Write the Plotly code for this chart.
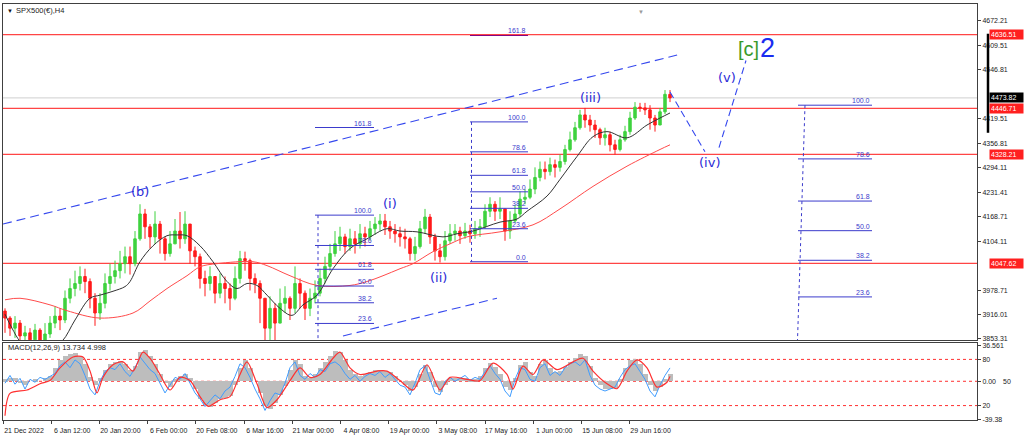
import plotly.graph_objects as go

# ---------------- DATA ----------------
# H4 candles (sampled), open = previous close
first_open = 3925
closes = [3907, 3881, 3894, 3861, 3869, 3851, 3876, 3846, 3866, 3894,
          3912, 3902, 3958, 3983, 3996, 4014, 4001, 3958, 3920, 3945,
          3996, 4014, 4029, 4047, 4065, 4047, 4111, 4175, 4142, 4116,
          4149, 4111, 4073, 4098, 4131, 4111, 4149, 4080, 4065, 4009,
          3996, 4014, 3971, 3996, 3983, 3958, 4009, 4060, 4055, 4009,
          3996, 3958, 3881, 3932, 3894, 3945, 3958, 3932, 3996, 3971,
          3932, 3958, 3971, 4009, 4040, 4073, 4098, 4116, 4091, 4111,
          4098, 4124, 4116, 4137, 4149, 4157, 4142, 4131, 4124, 4116,
          4111, 4073, 4091, 4137, 4167, 4116, 4080, 4065, 4106, 4124,
          4131, 4119, 4131, 4124, 4137, 4142, 4182, 4200, 4182, 4188,
          4131, 4157, 4175, 4213, 4218, 4239, 4269, 4290, 4284, 4302,
          4295, 4310, 4341, 4366, 4397, 4430, 4417, 4404, 4392, 4371,
          4379, 4353, 4341, 4366, 4387, 4422, 4450, 4448, 4443, 4422,
          4404, 4438, 4483, 4473.82]
highs = [3932, 3912, 3912, 3902, 3887, 3881, 3892, 3881, 3894, 3912,
         3938, 3932, 3978, 4009, 4029, 4040, 4034, 4009, 3971, 3971,
         4022, 4047, 4055, 4080, 4091, 4091, 4131, 4200, 4188, 4149,
         4182, 4157, 4116, 4131, 4162, 4180, 4182, 4149, 4091, 4073,
         4029, 4040, 4009, 4022, 4014, 3996, 4040, 4080, 4078, 4060,
         4022, 4004, 3958, 3963, 3945, 3983, 3989, 3963, 4040, 4009,
         3978, 3983, 4004, 4034, 4065, 4098, 4131, 4142, 4124, 4137,
         4131, 4149, 4142, 4157, 4167, 4175, 4175, 4157, 4149, 4142,
         4137, 4116, 4116, 4157, 4188, 4175, 4124, 4098, 4131, 4149,
         4149, 4142, 4152, 4147, 4157, 4162, 4200, 4218, 4208, 4218,
         4188, 4182, 4198, 4233, 4239, 4264, 4295, 4310, 4310, 4320,
         4315, 4328, 4353, 4387, 4412, 4443, 4448, 4430, 4417, 4397,
         4397, 4387, 4366, 4379, 4402, 4438, 4463, 4461, 4461, 4455,
         4430, 4448, 4494, 4494]
lows = [3869, 3861, 3856, 3843, 3836, 3830, 3841, 3825, 3836, 3856,
        3881, 3876, 3894, 3945, 3963, 3978, 3971, 3932, 3887, 3902,
        3932, 3978, 3996, 4009, 4022, 4019, 4040, 4106, 4111, 4086,
        4098, 4073, 4055, 4065, 4098, 4086, 4098, 4047, 4040, 3983,
        3963, 3978, 3945, 3958, 3945, 3927, 3953, 3996, 4029, 3978,
        3971, 3894, 3843, 3843, 3843, 3907, 3920, 3902, 3920, 3932,
        3902, 3912, 3945, 3963, 3996, 4029, 4065, 4080, 4073, 4080,
        4073, 4086, 4091, 4106, 4121, 4131, 4121, 4111, 4101, 4091,
        4086, 4055, 4055, 4086, 4124, 4098, 4055, 4050, 4055, 4098,
        4106, 4098, 4111, 4101, 4111, 4116, 4137, 4167, 4157, 4162,
        4106, 4111, 4152, 4167, 4200, 4213, 4226, 4259, 4264, 4274,
        4269, 4284, 4302, 4336, 4361, 4392, 4397, 4387, 4371, 4353,
        4351, 4336, 4328, 4336, 4361, 4379, 4417, 4438, 4430, 4392,
        4387, 4404, 4432, 4463]

# moving averages (bar index, value)
ma_fast_idx = [0, 1.4, 3, 5, 8, 11.4, 14, 17, 19, 21.6, 24, 25, 27, 29.6, 32.4,
               34.4, 36.4, 39, 41.6, 44.4, 46.4, 48.4, 50.4, 52.4, 55, 57.4, 59.6,
               62.4, 65.6, 69, 72.4, 76.4, 79, 82.4, 87.6, 90.4, 93.6, 99, 102.4,
               104.4, 108.4, 111, 114.4, 117.6, 120.4, 124.4, 128.4, 131, 133]
ma_fast_val = [3917, 3881, 3847, 3825, 3818, 3847, 3902, 3958, 3966, 3976, 3988,
               4001, 4052, 4093, 4119, 4121, 4119, 4093, 4052, 4001, 3983, 3996,
               3991, 3966, 3932, 3914, 3941, 3966, 4034, 4086, 4111, 4137, 4131,
               4129, 4116, 4124, 4131, 4154, 4162, 4182, 4221, 4264, 4323, 4374,
               4387, 4371, 4404, 4422, 4435]
ma_slow_idx = [0, 3, 9, 12.4, 19, 25.6, 29, 32.4, 36.4, 39, 42.4, 49.6, 52.4, 57,
               62.4, 69, 72.4, 75.6, 79, 81.6, 85.6, 89, 92.4, 99, 105.6, 111,
               117.6, 124.4, 131, 133]
ma_slow_val = [3954, 3958, 3941, 3926, 3907, 3920, 3951, 3983, 4016, 4039, 4047,
               4052, 4042, 4016, 3991, 3991, 4001, 4016, 4034, 4047, 4078, 4098,
               4116, 4129, 4147, 4188, 4246, 4298, 4341, 4353]

# MACD panel
macd_hist = [2, 4, 3, -2, -4, 0, 2, 0, 3, 6,
             14, 22, 26, 28, 29, 26, 18, 5, -4, 4,
             12, 18, 20, 21, 18, 12, 16, 30, 32, 26,
             18, 8, -2, -6, 2, 6, 8, 4, -8, -18,
             -24, -26, -22, -18, -17, -15, -4, 14, 22, 14,
             0, -12, -25, -28, -22, -14, -5, 12, 22, 18,
             6, 4, 8, 14, 20, 26, 31, 30, 22, 12,
             8, 6, 8, 10, 12, 12, 11, 10, 6, 0,
             -4, -10, -6, 8, 17, 10, -6, -11, -4, 3,
             4, 3, 4, 2, 2, 6, 14, 19, 15, 8,
             -6, -9, 4, 17, 20, 10, 6, 18, 22, 14,
             10, 11, 15, 20, 24, 28, 26, 16, 4, -4,
             -8, -8, -7, 2, 14, 22, 23, 18, 8, -4,
             -10, -6, 2, 8]
macd_main = [-2, 6, -3, 3, -8, 2, -1, 4, 2, 5,
             8, 16, 20, 14, 22, 18, 6, -8, -14, 0,
             10, 14, 12, 18, 10, 5, 14, 25, 18, 12,
             8, -2, -12, -4, 4, 2, 8, -2, -12, -18,
             -26, -20, -14, -18, -10, -6, 5, 18, 14, 4,
             -8, -18, -30, -20, -12, -14, -2, 14, 20, 6,
             2, 8, 4, 12, 10, 18, 20, 16, 8, 2,
             6, 0, 5, 8, 6, 10, 4, 8, 2, -4,
             -6, -14, -2, 12, 16, 2, -12, -14, 0, 4,
             0, 3, 6, 1, 4, 2, 10, 16, 8, 2,
             -10, -16, 2, 14, 12, 2, 0, 14, 18, 6,
             10, 6, 14, 18, 20, 16, 22, 6, -4, -8,
             -10, -8, -6, 4, 12, 16, 18, 10, 2, -10,
             -16, -4, 6, 13.734]
signal_idx = [0, 1, 4.4, 7, 9, 11, 13.6, 15.6, 17, 18.4, 19.6, 21.6, 23.6, 25.6,
              27.6, 29, 31, 33, 35, 37, 39, 40.6, 43, 45, 47, 48.4, 50.4, 52.4,
              54.4, 57, 59, 61, 63, 65.6, 67, 69, 71, 74.4, 76.4, 79, 81.6, 84.4,
              87, 89, 92.4, 95, 97.6, 100.4, 101.6, 103.6, 105.6, 107.6, 110.4,
              113.6, 115.6, 117.6, 120.4, 122.4, 124.4, 126.4, 128.4, 130.4, 132.4, 133]
signal_val = [-35.5, -12.5, -9, -2.6, 0.7, 13.8, 25, 25, 10.5, -12, 4, 17, 20, 10.5,
              30, 23.7, 7, -9, 4, 0.7, -15.8, -25.7, -19, -15.8, 7, 20, -2.6, -27,
              -19, 0.7, 13.8, 4, 7, 23.7, 30, 13.8, 7, 10.5, 10.5, 0.7, -9, 17,
              -9, 4, 2, 0.7, 18.7, 7, -8, 15.5, 7, 22, 12, 20, 23.7, 10.5, -2.6,
              -7.6, 10.5, 22, 13.8, -6, -1, 4.998]
macd_levels = [22.5, 0, -25.0]
macd_tick_vals = [36.561, 22.5, 0, -25.0, -39.38]
macd_tick_text = ["36.561", "80", "0.00", "20", "-39.38"]

# horizontal levels and axis labels
levels = [4636.51, 4446.71, 4328.21, 4047.62]
last_price = 4473.82
price_ticks = [4672.21, 4609.51, 4546.81, 4419.51, 4356.81, 4294.11,
               4231.41, 4168.71, 4104.11, 3978.71, 3916.01, 3853.31]
date_labels = ["21 Dec 2022", "6 Jan 12:00", "20 Jan 20:00", "6 Feb 00:00",
               "20 Feb 08:00", "6 Mar 16:00", "21 Mar 00:00", "4 Apr 08:00",
               "19 Apr 00:00", "3 May 08:00", "17 May 16:00", "1 Jun 00:00",
               "15 Jun 08:00", "29 Jun 16:00"]

# Fibonacci tools: (x start, x end, 100% price, 0% price)
fib_pcts_a = [161.8, 100.0, 78.6, 61.8, 50.0, 38.2, 23.6]
fib_a = (62.0, 73.8, 4172, 3807)
fib_pcts_b = [161.8, 100.0, 78.6, 61.8, 50.0, 38.2, 23.6, 0.0]
fib_b = (93.0, 104.6, 4412, 4052)
fib_pcts_c = [100.0, 78.6, 61.8, 50.0, 38.2, 23.6, 0.0]
fib_c = (158.6, 173.4, 4455, 3809)

# Elliott wave drawing
channel_upper = ([-0.4, 135.0], [4149, 4586])
channel_lower = ([67.6, 98.4], [3861, 3958])
projection_a = ([133.0, 140.0], [4489, 4335])
projection_b = ([142.8, 148.2], [4346, 4570])
wave_labels = ["(b)", "(i)", "(ii)", "(iii)", "(iv)", "(v)"]
wave_x = [27, 77, 86.6, 117, 140.8, 144.4]
wave_y = [4233, 4203, 4011, 4476, 4307, 4526]
degree_c = (148.6, 4599)
degree_2 = (152.4, 4603)

# ---------------- FIGURE ----------------
W, H = 1024, 441
XR = [-0.4, 194.4]
YR = [3850.8, 4715.6]
MR = [-40.0, 39.5]
BLUE = "#2b2bd6"
FIBC = "#3b3bcc"
AXF = dict(family="Liberation Sans", size=7, color="#222222")

n = len(closes)
idx = list(range(n))
opens = [first_open] + closes[:-1]
hi_c = [max(h, o, c) for h, o, c in zip(highs, opens, closes)]
lo_c = [min(l, o, c) for l, o, c in zip(lows, opens, closes)]

fig = go.Figure()

fig.add_trace(go.Scatter(x=ma_slow_idx, y=ma_slow_val, mode="lines",
                         line=dict(color="#ff4b4b", width=1, shape="spline"),
                         xaxis="x", yaxis="y", showlegend=False, hoverinfo="skip"))
fig.add_trace(go.Candlestick(x=idx, open=opens, high=hi_c, low=lo_c, close=closes,
                             increasing=dict(line=dict(color="#3fd23f", width=1), fillcolor="#3fd23f"),
                             decreasing=dict(line=dict(color="#ff1a1a", width=1), fillcolor="#ff1a1a"),
                             whiskerwidth=0, xaxis="x", yaxis="y", showlegend=False))
fig.add_trace(go.Scatter(x=ma_fast_idx, y=ma_fast_val, mode="lines",
                         line=dict(color="#333333", width=1, shape="spline"),
                         xaxis="x", yaxis="y", showlegend=False, hoverinfo="skip"))

# MACD
fig.add_trace(go.Bar(x=idx, y=macd_hist, marker=dict(color="#bdbdbd", line=dict(width=0)),
                     width=1.0, xaxis="x2", yaxis="y2", showlegend=False))
fig.add_trace(go.Scatter(x=idx, y=macd_main, mode="lines", line=dict(color="#3f9cff", width=1),
                         xaxis="x2", yaxis="y2", showlegend=False))
fig.add_trace(go.Scatter(x=signal_idx, y=signal_val, mode="lines",
                         line=dict(color="#ff3030", width=1.2, shape="spline", smoothing=0.8),
                         xaxis="x2", yaxis="y2", showlegend=False))

shapes = []
for lv in levels:
    shapes.append(dict(type="line", xref="x", yref="y", x0=XR[0], x1=XR[1], y0=lv, y1=lv,
                       line=dict(color="#ff4545", width=1.2), layer="below"))
shapes.append(dict(type="line", xref="x", yref="y", x0=XR[0], x1=XR[1], y0=last_price, y1=last_price,
                   line=dict(color="#cfcfcf", width=1), layer="below"))
for lv in macd_levels:
    shapes.append(dict(type="line", xref="x2", yref="y2", x0=XR[0], x1=XR[1], y0=lv, y1=lv,
                       line=dict(color="#ff3030", width=1, dash="dot"), layer="below"))

annotations = []


def add_fib(spec, pcts, vline, purple_top=False):
    x0, x1, p100, p0 = spec
    for p in pcts:
        val = p0 + (p100 - p0) * p / 100.0
        if val < YR[0] or val > YR[1]:
            continue
        col = "#800080" if (purple_top and p > 100) else FIBC
        shapes.append(dict(type="line", xref="x", yref="y", x0=x0, x1=x1, y0=val, y1=val,
                           line=dict(color=col, width=1)))
        annotations.append(dict(x=x1, y=val, xref="x", yref="y", text=f"{p:.1f}", showarrow=False,
                                xanchor="right", yanchor="bottom", yshift=-1,
                                font=dict(family="Liberation Sans", size=7, color=FIBC)))
    vx0, vx1 = vline
    shapes.append(dict(type="line", xref="x", yref="y", x0=vx0, x1=vx1, y0=p100, y1=p0,
                       line=dict(color=FIBC, width=1, dash="dot")))


add_fib(fib_a, fib_pcts_a, (fib_a[0] + 0.6, fib_a[0] + 0.6))
add_fib(fib_b, fib_pcts_b, (fib_b[0] + 0.3, fib_b[0] + 0.3), purple_top=True)
add_fib(fib_c, fib_pcts_c, (fib_c[0] + 1.4, fib_c[0] - 0.2))

for (xs, ys), dsh in [(channel_upper, "9px,5px"), (channel_lower, "9px,5px"),
                      (projection_a, "7px,4px"), (projection_b, "7px,4px")]:
    shapes.append(dict(type="line", xref="x", yref="y", x0=xs[0], x1=xs[1], y0=ys[0], y1=ys[1],
                       line=dict(color="#3548ee", width=1.1, dash=dsh)))

shapes.append(dict(type="line", xref="paper", yref="y", x0=988 / W, x1=988 / W, y0=4639, y1=4384,
                   line=dict(color="#000000", width=2.5)))

for t, x, y in zip(wave_labels, wave_x, wave_y):
    annotations.append(dict(x=x, y=y, xref="x", yref="y", text=t, showarrow=False,
                            font=dict(family="DejaVu Sans", size=13, color=BLUE)))
annotations.append(dict(x=degree_c[0], y=degree_c[1], xref="x", yref="y", text="[c]", showarrow=False,
                        font=dict(family="Liberation Sans", size=20, color="#3a9a2a")))
annotations.append(dict(x=degree_2[0], y=degree_2[1], xref="x", yref="y", text="2", showarrow=False,
                        font=dict(family="Liberation Sans", size=27, color="#1a2cf0")))

for lv in levels:
    annotations.append(dict(x=989 / W, xref="paper", y=lv, yref="y", text=f"{lv:.2f}", showarrow=False,
                            xanchor="left", yanchor="middle", bgcolor="#ff2020", borderpad=1,
                            width=31, align="left",
                            font=dict(family="Liberation Sans", size=7, color="white")))
annotations.append(dict(x=989 / W, xref="paper", y=last_price, yref="y", text=f"{last_price:.2f}",
                        showarrow=False, xanchor="left", yanchor="middle", bgcolor="#000000",
                        borderpad=1, width=31, align="left",
                        font=dict(family="Liberation Sans", size=7, color="white")))

annotations.append(dict(x=5 / W, y=1 - 10 / H, xref="paper", yref="paper", text="▼", showarrow=False,
                        xanchor="left", yanchor="middle", font=dict(size=6, color="#111111")))
annotations.append(dict(x=14 / W, y=1 - 10 / H, xref="paper", yref="paper", text="SPX500(€),H4",
                        showarrow=False, xanchor="left", yanchor="middle",
                        font=dict(family="Liberation Sans", size=7.5, color="#222222")))
annotations.append(dict(x=6 / W, y=1 - 350 / H, xref="paper", yref="paper",
                        text="MACD(12,26,9) 13.734 4.998", showarrow=False, xanchor="left",
                        yanchor="middle", font=dict(family="Liberation Sans", size=7.5, color="#222222")))
annotations.append(dict(x=641 / W, y=1 - 5 / H, xref="paper", yref="paper", text="▼", showarrow=False,
                        font=dict(size=6, color="#9a9a9a")))
annotations.append(dict(x=1001 / W, y=0, xref="paper", yref="y2", text="50", showarrow=False,
                        xanchor="left", yanchor="middle",
                        font=dict(family="Liberation Sans", size=7, color="#222222")))

date_pos = [XR[0] + 9.64 * k for k in range(len(date_labels))]

frame = dict(showline=True, mirror=True, linecolor="#404040", linewidth=1,
             showgrid=False, zeroline=False)
fig.update_layout(
    width=W, height=H, autosize=False,
    margin=dict(l=0, r=0, t=0, b=0),
    paper_bgcolor="white", plot_bgcolor="white",
    showlegend=False, bargap=0, hovermode=False,
    xaxis=dict(domain=[3 / W, 977 / W], anchor="y", range=XR, showticklabels=False,
               rangeslider=dict(visible=False), **frame),
    yaxis=dict(domain=[1 - 342 / H, 1 - 3 / H], anchor="x", side="right", range=YR,
               tickmode="array", tickvals=price_ticks, ticktext=[f"{v:.2f}" for v in price_ticks],
               ticks="outside", ticklen=3, tickcolor="#404040", tickfont=AXF, **frame),
    xaxis2=dict(domain=[3 / W, 977 / W], anchor="y2", range=XR, matches="x",
                tickmode="array", tickvals=date_pos, ticktext=date_labels,
                ticks="outside", ticklen=3, tickcolor="#404040", tickfont=AXF,
                ticklabelshift=21, **frame),
    yaxis2=dict(domain=[1 - 423 / H, 1 - 345 / H], anchor="x2", side="right", range=MR,
                tickmode="array", tickvals=macd_tick_vals, ticktext=macd_tick_text,
                ticks="outside", ticklen=3, tickcolor="#404040", tickfont=AXF, **frame),
    shapes=shapes,
    annotations=annotations,
)

fig.write_html("out.html", config={"displayModeBar": False},
               post_script="document.body.style.margin='0';document.body.style.overflow='hidden';")
